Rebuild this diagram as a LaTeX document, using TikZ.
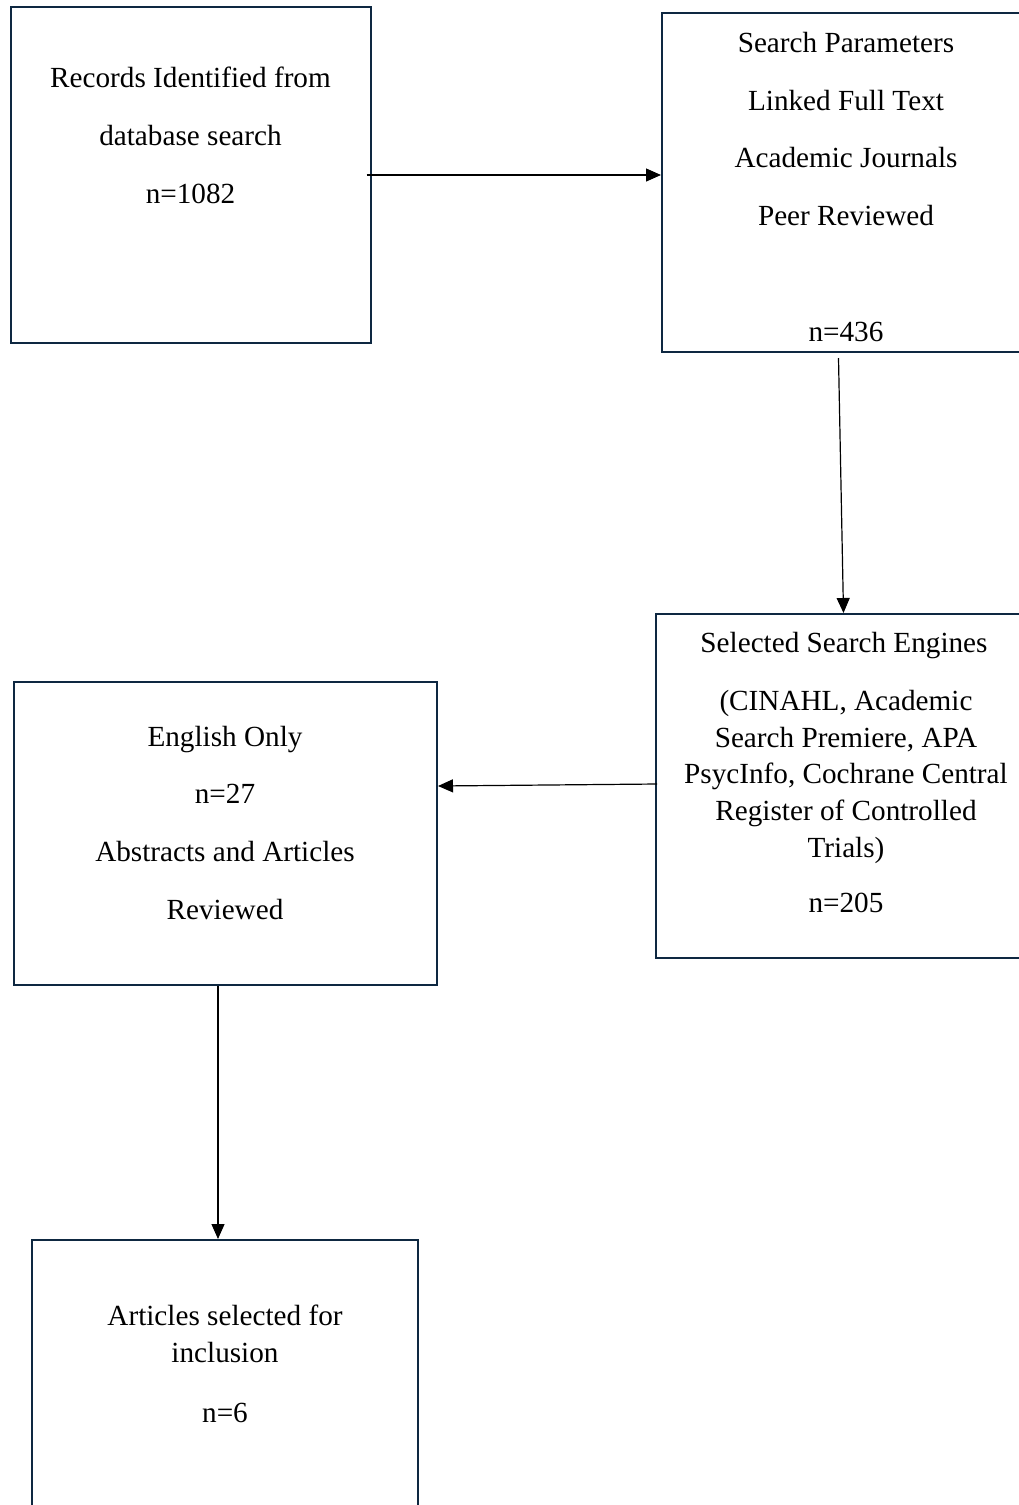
\documentclass[tikz,border=0pt]{standalone}
\usepackage{fontspec}
\setmainfont{Liberation Serif}
\usetikzlibrary{arrows.meta,calc}
\definecolor{boxline}{HTML}{0E2841}
\tikzset{
  box/.style={draw=boxline, line width=2pt, fill=white, inner sep=0pt},
  txt/.style={anchor=base, inner sep=0pt, font=\fontsize{29.2}{36}\selectfont},
  arr/.style={draw=black, line width=1.2pt, -{Triangle[length=15pt,width=13pt]}}
}
\begin{document}
\begin{tikzpicture}[x=1pt,y=-1pt]
\clip (0,0) rectangle (1019,1505);
\fill[white] (0,0) rectangle (1019,1505);
% boxes
\node[box, minimum width=360pt, minimum height=336pt] (A) at (190.5,175) {};
\node[box, minimum width=369pt, minimum height=339pt] (B) at (846.5,182.5) {};
\node[box, minimum width=381pt, minimum height=344pt] (C) at (846.5,786) {};
\node[box, minimum width=423pt, minimum height=303pt] (D) at (225.5,833.5) {};
\node[box, minimum width=386pt, minimum height=300pt] (E) at (225,1390) {};
% texts box A
\node[txt] (a1) at (190.5,87) {Records Identified from};
\node[txt] (a2) at (190.5,145) {database search};
\node[txt] (a3) at (190.5,203) {n=1082};
% texts box B
\node[txt] (b1) at (846,52) {Search Parameters};
\node[txt] (b2) at (846,110) {Linked Full Text};
\node[txt] (b3) at (846,167) {Academic Journals};
\node[txt] (b4) at (846,225) {Peer Reviewed};
\node[txt] (b5) at (846,341) {n=436};
% texts box C
\node[txt] (c1) at (844,652) {Selected Search Engines};
\node[txt] (c2) at (846,710) {(CINAHL, Academic};
\node[txt] (c3) at (846,747) {Search Premiere, APA};
\node[txt] (c4) at (846,783) {PsycInfo, Cochrane Central};
\node[txt] (c5) at (846,820) {Register of Controlled};
\node[txt] (c6) at (846,857) {Trials)};
\node[txt] (c7) at (846,912) {n=205};
% texts box D
\node[txt] (d1) at (225,746) {English Only};
\node[txt] (d2) at (225,803) {n=27};
\node[txt] (d3) at (225,861) {Abstracts and Articles};
\node[txt] (d4) at (225,919) {Reviewed};
% texts box E
\node[txt] (e1) at (225,1325) {Articles selected for};
\node[txt] (e2) at (225,1362) {inclusion};
\node[txt] (e3) at (225,1422) {n=6};
% connectors
\draw[arr] ([xshift=-5pt]A.east) -- (A.east -| B.west);
\draw[arr] ($(B.south)+(-8,5)$) -- ($(C.north)+(-3,0)$);
\draw[arr] ($(C.west)+(2,-2)$) -- (D.east |- C.west);
\draw[arr] ($(D.south)+(-7.5,0)$) -- ($(E.north)+(-7,0)$);
\end{tikzpicture}
\end{document}
